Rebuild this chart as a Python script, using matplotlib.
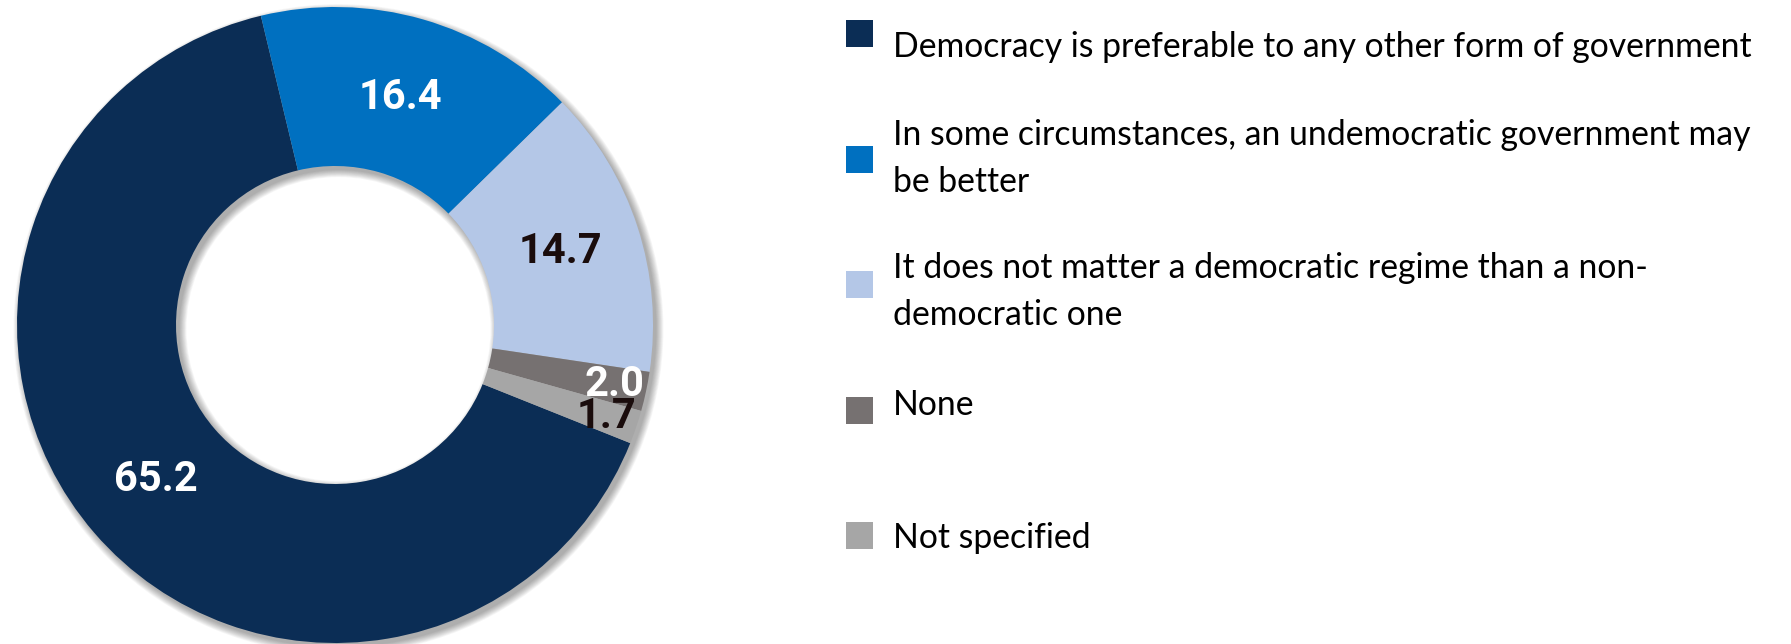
import matplotlib
matplotlib.use("Agg")
import matplotlib.pyplot as plt
from matplotlib.patches import Rectangle, Wedge
import numpy as np

# survey shares (%)
labels = [
    "Democracy is preferable to any other form of government",
    "In some circumstances, an undemocratic government may\nbe better",
    "It does not matter a democratic regime than a non-\ndemocratic one",
    "None",
    "Not specified",
]
values = [65.2, 16.4, 14.7, 2.0, 1.7]
colors = ["#0b2d55", "#0070c0", "#b4c7e7", "#767171", "#a6a6a6"]
text_colors = ["white", "white", "#1a0c0c", "white", "#1a0c0c"]

W, H = 1791, 644
fig = plt.figure(figsize=(W / 100, H / 100), dpi=100)

# donut
cx, cy, R = 335, 319, 318
ax = fig.add_axes([(cx - R) / W, (cy - R) / H, 2 * R / W, 2 * R / H])

# soft drop shadow under the ring
for s in np.linspace(0, 0.022, 10):
    ax.add_patch(Wedge((0.011, -0.013), 1 + s, 0, 360, width=0.5 + 2 * s,
                       color="black", alpha=0.035, lw=0, clip_on=False))

wedges, _ = ax.pie(values, colors=colors, startangle=338.2, counterclock=False,
                   radius=1.0, wedgeprops=dict(width=0.5, linewidth=0, clip_on=False))
ax.set_xlim(-1, 1)
ax.set_ylim(-1, 1)
ax.set_aspect("equal")
ax.axis("off")

# value labels, small slices pushed out toward the rim
for w, v, tc in zip(wedges, values, text_colors):
    mid = np.deg2rad((w.theta1 + w.theta2) / 2)
    r = 0.745 if v > 5 else 0.9
    ax.text(r * np.cos(mid), r * np.sin(mid), f"{v:.1f}", color=tc,
            ha="center", va="center", fontsize=30, fontweight="bold",
            family="Roboto")

# legend (baseline of the last line of each entry)
lx, tx = 859.5, 893
sq = 27
marker_y = [33.5, 159.5, 284.5, 410, 535.5]
base_y = [57, 192, 325, 415, 548]
for lab, col, my, by in zip(labels, colors, marker_y, base_y):
    fig.add_artist(Rectangle(((lx - sq / 2) / W, (H - my - sq / 2) / H), sq / W, sq / H,
                             transform=fig.transFigure, color=col, lw=0))
    fig.text(tx / W, (H - by) / H, lab, ha="left", va="baseline", fontsize=24.3,
             color="black", family="Lato", linespacing=1.58)

fig.savefig("out.png", dpi=100)
